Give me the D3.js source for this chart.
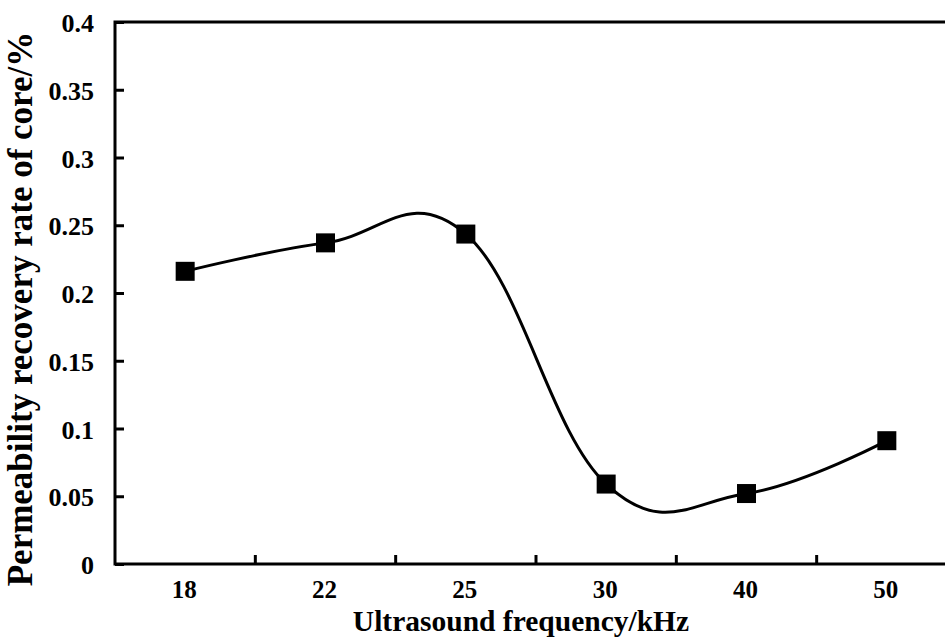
<!DOCTYPE html>
<html><head><meta charset="utf-8">
<script src="https://cdn.jsdelivr.net/npm/d3@7"></script>
<style>
html,body{margin:0;padding:0;background:#fff;}
svg{display:block;}
text{font-family:"Liberation Serif","Times New Roman",serif;font-weight:bold;fill:#000;}
</style></head>
<body>
<svg id="chart" width="945" height="639"></svg>
<script>
const categories = ["18","22","25","30","40","50"];
const recoveryRate = [0.216, 0.237, 0.2435, 0.059, 0.052, 0.091];
const yTicks = [0, 0.05, 0.1, 0.15, 0.2, 0.25, 0.3, 0.35, 0.4];
const xTitle = "Ultrasound frequency/kHz";
const yTitle = "Permeability recovery rate of core/%";

(function(){
const svg = d3.select("#chart");
const mLeft = 115, mRight = 957, mTop = 22, mBottom = 564;

const x = d3.scaleBand().domain(categories).range([mLeft, mRight]);
const y = d3.scaleLinear().domain([0, 0.4]).range([mBottom, mTop]);

svg.append("rect").attr("x", mLeft).attr("y", mTop)
  .attr("width", mRight-mLeft).attr("height", mBottom-mTop)
  .attr("fill", "none").attr("stroke", "#000").attr("stroke-width", 3);

const yAxis = svg.append("g").attr("transform", `translate(${mLeft},0)`)
  .call(d3.axisLeft(y).tickValues(yTicks).tickSize(-9).tickPadding(21)
    .tickFormat(d => String(+d.toFixed(2))));
yAxis.attr("font-size", 26).attr("font-family", "'Liberation Serif',serif");
yAxis.select(".domain").remove();
yAxis.selectAll("line").attr("stroke", "#000").attr("stroke-width", 3);
yAxis.selectAll("text").attr("dy", "0.37em")
  .style("font-size", "26px")
  .style("font-family", "'Liberation Serif',serif").style("font-weight", "bold");

const bounds = categories.slice(1).map(c => x(c));
svg.append("g").selectAll("line").data(bounds).join("line")
  .attr("x1", d => d).attr("x2", d => d)
  .attr("y1", mBottom).attr("y2", mBottom - 9)
  .attr("stroke", "#000").attr("stroke-width", 3);
svg.append("g").selectAll("text").data(categories).join("text")
  .attr("x", d => x(d) + x.bandwidth()/2 - 1)
  .attr("y", 598)
  .attr("text-anchor", "middle")
  .style("font-size", "25px")
  .text(d => d);

const line = d3.line()
  .x((d, i) => x(categories[i]) + x.bandwidth()/2)
  .y(d => y(d))
  .curve(d3.curveCardinal.tension(-0.2));
svg.append("path").datum(recoveryRate)
  .attr("d", line).attr("fill", "none")
  .attr("stroke", "#000").attr("stroke-width", 3);

const ms = 19;
svg.append("g").selectAll("rect").data(recoveryRate).join("rect")
  .attr("x", (d, i) => x(categories[i]) + x.bandwidth()/2 - ms/2)
  .attr("y", d => y(d) - ms/2)
  .attr("width", ms).attr("height", ms).attr("fill", "#000");

svg.append("text").attr("x", 521).attr("y", 631)
  .attr("text-anchor", "middle").style("font-size", "29.5px").text(xTitle);
svg.append("text")
  .attr("transform", "translate(32,309) rotate(-90)")
  .attr("text-anchor", "middle").style("font-size", "35px").text(yTitle);
})();
</script>
</body></html>
